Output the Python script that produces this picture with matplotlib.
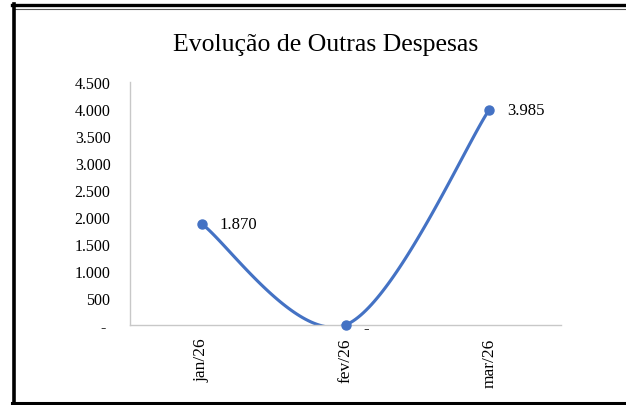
import numpy as np
import matplotlib.pyplot as plt
from matplotlib.lines import Line2D

# Dados
meses = ['jan/26', 'fev/26', 'mar/26']
valores = [1870, 0, 3985]
yticks = [0, 500, 1000, 1500, 2000, 2500, 3000, 3500, 4000, 4500]

cor = '#4472C4'
plt.rcParams['font.family'] = ['Liberation Serif', 'DejaVu Serif']


def fmt(v):
    # formato contabil: separador de milhar "." e zero como "-"
    if v == 0:
        return '-'
    return f'{v:,.0f}'.replace(',', '.')


def suavizar(xs, ys, n=60):
    # curva suavizada estilo Excel (Bezier tipo Catmull-Rom)
    xs = np.asarray(xs, float)
    ys = np.asarray(ys, float)
    px, py = [], []
    for i in range(len(xs) - 1):
        i0 = max(i - 1, 0)
        i3 = min(i + 2, len(xs) - 1)
        c1x = xs[i] + (xs[i + 1] - xs[i0]) / 6
        c1y = ys[i] + (ys[i + 1] - ys[i0]) / 6
        c2x = xs[i + 1] - (xs[i3] - xs[i]) / 6
        c2y = ys[i + 1] - (ys[i3] - ys[i]) / 6
        t = np.linspace(0, 1, n)
        px.extend((1 - t)**3 * xs[i] + 3 * (1 - t)**2 * t * c1x + 3 * (1 - t) * t**2 * c2x + t**3 * xs[i + 1])
        py.extend((1 - t)**3 * ys[i] + 3 * (1 - t)**2 * t * c1y + 3 * (1 - t) * t**2 * c2y + t**3 * ys[i + 1])
    return np.array(px), np.array(py)


fig = plt.figure(figsize=(6.26, 4.06), dpi=100)
ax = fig.add_axes([130 / 626, 1 - 326 / 406, 431 / 626, 243 / 406])

x = np.arange(len(meses))
sx, sy = suavizar(x, valores)
ax.plot(sx, sy, color=cor, lw=2.25, solid_capstyle='round')
ax.plot(x, valores, 'o', color=cor, ms=6.5, clip_on=False, zorder=5)

for xi, v in zip(x, valores):
    ax.annotate(fmt(v), (xi, v), xytext=(13, -2 if v == 0 else 0), textcoords='offset points',
                ha='left', va='center', fontsize=12, color='#000000')

ax.set_xlim(-0.5, len(meses) - 0.5)
ax.set_ylim(0, 4500)
ax.set_yticks(yticks)
ax.set_yticklabels([fmt(v) + (' ' if v == 0 else '') for v in yticks], fontsize=11.5)
ax.set_xticks(x)
ax.set_xticklabels(meses, rotation=90, fontsize=12.5)
ax.tick_params(axis='y', length=0, pad=14)
ax.tick_params(axis='x', length=0, pad=9)

for s in ['top', 'right']:
    ax.spines[s].set_visible(False)
for s in ['left', 'bottom']:
    ax.spines[s].set_color('#C8C8C8')
    ax.spines[s].set_linewidth(1)

fig.text(326 / 626, 1 - 45 / 406, 'Evolução de Outras Despesas', ha='center', va='center',
         fontsize=18.5, color='#000000')

# moldura
W, H = 626, 406
fig.add_artist(Line2D([12 / W, 1], [1 - 6 / H] * 2, color='black', lw=2.4))
fig.add_artist(Line2D([15 / W, 1], [1 - 9.5 / H] * 2, color='#555555', lw=0.8))
fig.add_artist(Line2D([13.5 / W] * 2, [1 - 5 / H, 1 - 404 / H], color='black', lw=2.6))
fig.add_artist(Line2D([12 / W, 1], [1 - 403.5 / H] * 2, color='black', lw=2.2))

fig.savefig('out.png', dpi=100)
